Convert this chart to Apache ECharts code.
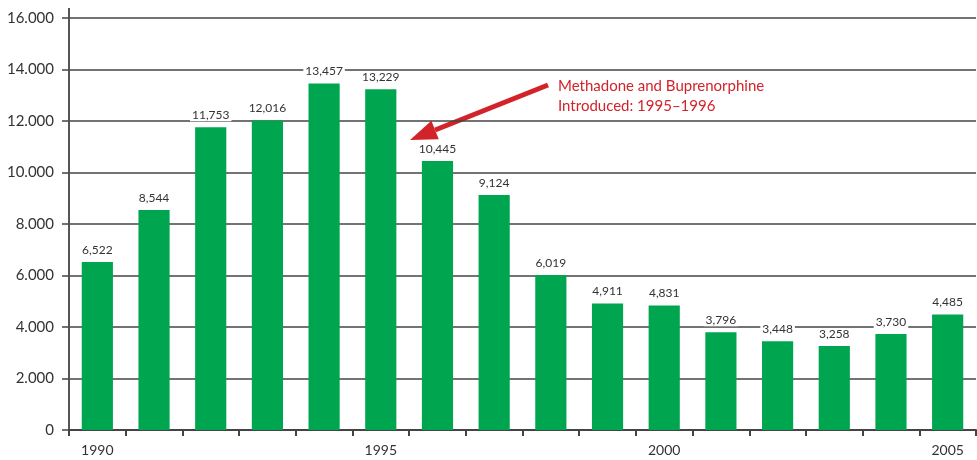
<!DOCTYPE html>
<html>
<head>
<meta charset="utf-8">
<script src="https://cdn.jsdelivr.net/npm/echarts@6/dist/echarts.min.js"></script>
<style>
html,body{margin:0;padding:0;background:#fff;}
#chart{width:977px;height:460px;}
</style>
</head>
<body>
<div id="chart"></div>
<script>
const years = ['1990','1991','1992','1993','1994','1995','1996','1997','1998','1999','2000','2001','2002','2003','2004','2005'];
const values = [6522, 8544, 11753, 12016, 13457, 13229, 10445, 9124, 6019, 4911, 4831, 3796, 3448, 3258, 3730, 4485];
const yTicks = [0, 2000, 4000, 6000, 8000, 10000, 12000, 14000, 16000];
const annotationLines = ['Methadone and Buprenorphine', 'Introduced: 1995\u20131996'];

const FONT = 'Lato, "Open Sans", sans-serif';
const chart = echarts.init(document.getElementById('chart'));

// arrow geometry (annotation)
const tail = [548, 85], tip = [410, 140];
const dx = tip[0]-tail[0], dy = tip[1]-tail[1];
const len = Math.sqrt(dx*dx+dy*dy);
const ux = dx/len, uy = dy/len;
const headLen = 27, headHalf = 10;
const base = [tip[0]-headLen*ux, tip[1]-headLen*uy];
const px = -uy, py = ux;

chart.setOption({
  animation: false,
  grid: {left: 69, right: 1, top: 18, bottom: 30, containLabel: false},
  xAxis: {
    type: 'category',
    data: years,
    boundaryGap: true,
    axisLine: {lineStyle: {color: '#444', width: 2}},
    axisTick: {show: true, interval: 0, length: 6, lineStyle: {color: '#444', width: 2}},
    axisLabel: {interval: 4, color: '#333', fontFamily: FONT, fontSize: 14, margin: 13}
  },
  yAxis: {
    type: 'value',
    min: yTicks[0],
    max: yTicks[yTicks.length-1],
    interval: 2000,
    axisLine: {show: true, lineStyle: {color: '#555', width: 2}},
    axisTick: {show: true, length: 7, lineStyle: {color: '#444', width: 1.5}},
    splitLine: {show: true, lineStyle: {color: '#444', width: 1.5}},
    axisLabel: {
      color: '#333', fontFamily: FONT, fontSize: 15, margin: 15,
      formatter: v => v === 0 ? '0' : (v/1000).toFixed(0) + '.000'
    }
  },
  series: [{
    type: 'bar',
    data: values,
    barWidth: '55%',
    itemStyle: {color: '#00a64f'},
    label: {
      show: true, position: 'top', distance: 6,
      color: '#333', fontFamily: FONT, fontSize: 12,
      backgroundColor: '#fff', padding: [0, 2],
      formatter: p => p.value.toLocaleString('en-US')
    }
  }],
  graphic: [
    {type: 'line', shape: {x1: 69, y1: 8, x2: 69, y2: 18}, style: {stroke: '#555', lineWidth: 2}},
    {type: 'line', shape: {x1: tail[0], y1: tail[1], x2: base[0], y2: base[1]},
     style: {stroke: '#d2232a', lineWidth: 5}},
    {type: 'polygon', shape: {points: [tip,
        [base[0]+headHalf*px, base[1]+headHalf*py],
        [base[0]-headHalf*px, base[1]-headHalf*py]]},
     style: {fill: '#d2232a'}},
    {type: 'text', left: 558, top: 76,
     style: {text: annotationLines.join('\n'), fill: '#d2232a', font: '15px ' + FONT, lineHeight: 20}}
  ]
});
</script>
</body>
</html>
